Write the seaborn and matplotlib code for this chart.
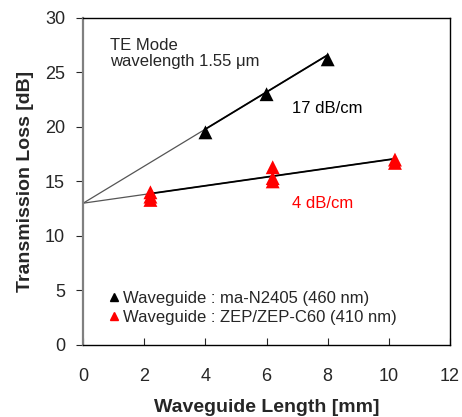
import numpy as np
import pandas as pd
import seaborn as sns
import matplotlib.pyplot as plt
from matplotlib.lines import Line2D

# measured points
man_len = [4, 6, 8]
man_loss = [19.5, 23.0, 26.2]
zep_len = [2.2, 2.2, 2.2, 6.2, 6.2, 6.2, 10.2, 10.2]
zep_loss = [14.0, 13.6, 13.3, 16.3, 15.3, 15.0, 17.0, 16.7]

# linear fits (dB per mm, intercept dB)
man_slope, zep_slope, intercept = 1.7, 0.4, 13.0

series_names = ["Waveguide : ma-N2405 (460 nm)", "Waveguide : ZEP/ZEP-C60 (410 nm)"]
colors = ["black", "red"]

df = pd.DataFrame({
    "length": man_len + zep_len,
    "loss": man_loss + zep_loss,
    "series": [series_names[0]] * len(man_len) + [series_names[1]] * len(zep_len),
})

sns.set_style("ticks")
plt.rcParams["font.family"] = ["Liberation Sans", "DejaVu Sans"]

fig = plt.figure(figsize=(4.62, 4.17), dpi=100)
ax = fig.add_axes([0.18, 0.173, 0.794, 0.784])

# fit lines: thin gray from origin, black over the data range
for slope, xs in [(man_slope, man_len), (zep_slope, zep_len)]:
    x_full = np.array([0, max(xs)])
    ax.plot(x_full, intercept + slope * x_full, color="#555555", lw=0.9, zorder=1)
    x_dat = np.array([min(xs), max(xs)])
    ax.plot(x_dat, intercept + slope * x_dat, color="black", lw=1.3, zorder=2)

sns.scatterplot(data=df, x="length", y="loss", hue="series", palette=colors,
                marker="^", s=100, edgecolor="none", ax=ax, legend=False, zorder=3)

ax.set_xlim(0, 12)
ax.set_ylim(0, 30)
ax.set_xticks(range(0, 13, 2))
ax.set_yticks(range(0, 31, 5))
ax.tick_params(axis="x", direction="in", length=5, labelsize=13, pad=17)
ax.tick_params(axis="y", direction="out", length=5, labelsize=13, pad=8)
for s in ax.spines.values():
    s.set_visible(True)
    s.set_color("black")
    s.set_linewidth(1.0)
ax.spines["left"].set_color("#808080")
ax.spines["left"].set_linewidth(1.6)

ax.set_xlabel("Waveguide Length [mm]", fontsize=14, fontweight="bold", labelpad=10)
ax.set_ylabel("Transmission Loss [dB]", fontsize=14, fontweight="bold", labelpad=8)

ax.text(0.88, 28.2, "TE Mode\nwavelength 1.55 \u03bcm", fontsize=12, va="top", ha="left",
        linespacing=1.1)
ax.text(6.83, 21.7, "17 dB/cm", fontsize=12, va="center", ha="left", color="black")
ax.text(6.83, 13.0, "4 dB/cm", fontsize=12, va="center", ha="left", color="red")

handles = [Line2D([], [], marker="^", ls="none", color=c, markersize=6) for c in colors]
ax.legend(handles, series_names, loc="lower left", bbox_to_anchor=(0.04, 0.03),
          frameon=False, fontsize=12, handletextpad=0.12, handlelength=0.8,
          labelspacing=0.25, borderaxespad=0.2)

fig.savefig("out.png", dpi=100)
